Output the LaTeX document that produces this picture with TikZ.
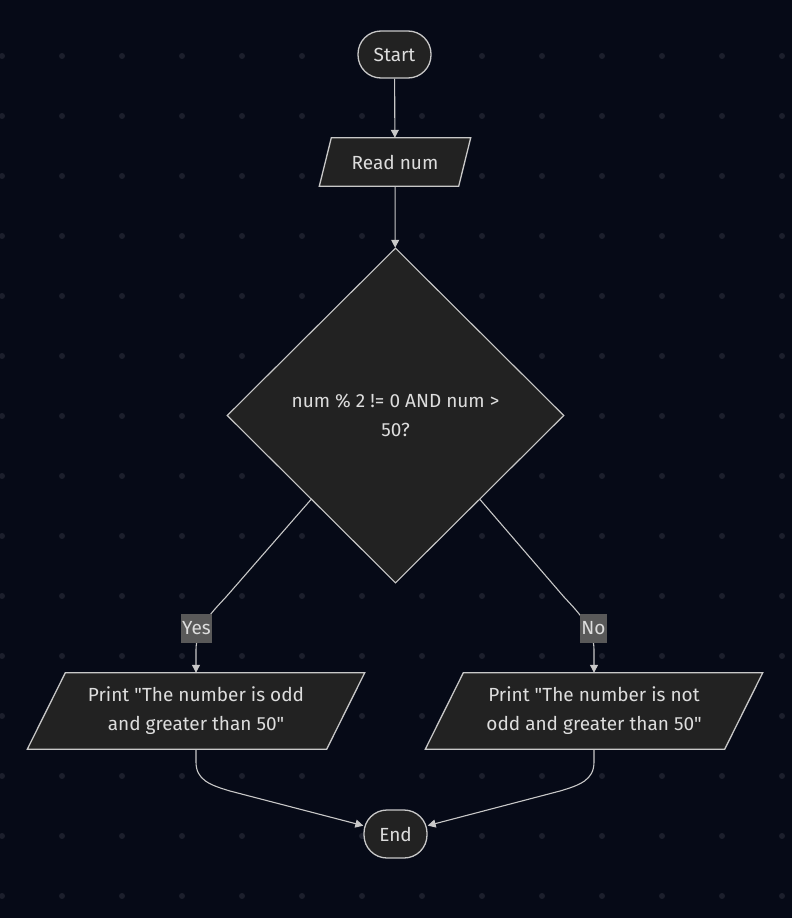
\documentclass[tikz,border=0pt]{standalone}
\usepackage{fontspec}
\newfontfamily\flowfont{Fira Sans}
\usetikzlibrary{shapes.geometric,arrows.meta,calc,backgrounds}
\definecolor{canvas}{HTML}{060A17}
\definecolor{gridDot}{HTML}{1C1F2C}
\definecolor{boxFill}{HTML}{222222}
\definecolor{boxLine}{HTML}{C8C8C8}
\definecolor{ink}{HTML}{DDDDDD}
\definecolor{tagFill}{HTML}{595959}

\begin{document}
\begin{tikzpicture}[x=1pt,y=-1pt,
  every node/.style={text=ink, font=\flowfont\fontsize{19}{29}\selectfont},
  terminal/.style={draw=boxLine, fill=boxFill, line width=1.3pt, rounded corners=23pt, inner sep=0pt},
  textbox/.style={inner sep=0pt, align=center},
  decision/.style={diamond, draw=boxLine, fill=boxFill, line width=1.1pt, inner sep=0pt,
    align=center, minimum width=337pt, minimum height=335pt},
  lean/.style={draw=boxLine, fill=boxFill, line width=1.3pt},
  flow/.style={draw=boxLine, line width=1.1pt, -{Triangle[length=8pt,width=8pt]}},
  tag/.style={fill=tagFill, inner xsep=1pt, inner ysep=0pt, minimum height=29pt}
]
\useasboundingbox (0,0) rectangle (792,918);

% canvas and dot grid
\begin{scope}[on background layer]
  \fill[canvas] (0,0) rectangle (792,918);
  \foreach \i in {0,...,13}
    \foreach \j in {0,...,14}
      \fill[gridDot] (2+60*\i, 56+60*\j) circle (3pt);
\end{scope}

% nodes
\node[terminal, minimum width=73pt, minimum height=47pt] (s) at (394.5,54.5) {Start};
\node[textbox, minimum width=139pt, minimum height=48pt] (r) at (395,162) {Read num};
\node[decision] (d) at (395.5,415.5) {num \% 2 != 0 AND num >\\50?};
\node[textbox, minimum width=299pt, minimum height=76pt] (p1) at (196,711)
  {Print "The number is odd\\and greater than 50"};
\node[textbox, minimum width=299pt, minimum height=76pt] (p2) at (594,711)
  {Print "The number is not\\odd and greater than 50"};
\node[terminal, minimum width=63pt, minimum height=48pt] (e) at (395.5,834) {End};

% slanted input/output boxes behind their text
\begin{scope}[on background layer]
  \draw[lean] ($(r.north west)+(6,0)$) -- ($(r.north east)+(6,0)$)
    -- ($(r.south east)+(-6,0)$) -- ($(r.south west)+(-6,0)$) -- cycle;
  \draw[lean] ($(p1.north west)+(19,0)$) -- ($(p1.north east)+(19,0)$)
    -- ($(p1.south east)+(-19,0)$) -- ($(p1.south west)+(-19,0)$) -- cycle;
  \draw[lean] ($(p2.north west)+(19,0)$) -- ($(p2.north east)+(19,0)$)
    -- ($(p2.south east)+(-19,0)$) -- ($(p2.south west)+(-19,0)$) -- cycle;
\end{scope}

% connectors
\draw[flow] (s) -- (r);
\draw[flow] (r) -- (d);
\draw[flow] (d.south west) -- (226,597) .. controls (212,612) and (196,628) .. (196,650) -- (p1.north);
\draw[flow] (d.south east) -- (564,597) .. controls (578,612) and (594,628) .. (594,650) -- (p2.north);
\draw[flow] (p1.south) -- (196,762) .. controls (196,780) and (210,785) .. (230,791) -- (e);
\draw[flow] (p2.south) -- (594,762) .. controls (594,780) and (580,785) .. (560,791) -- (e);

% branch labels
\node[tag] (yes) at (196.5,628) {Yes};
\node[tag] (no) at (593.5,628) {No};
\end{tikzpicture}
\end{document}
